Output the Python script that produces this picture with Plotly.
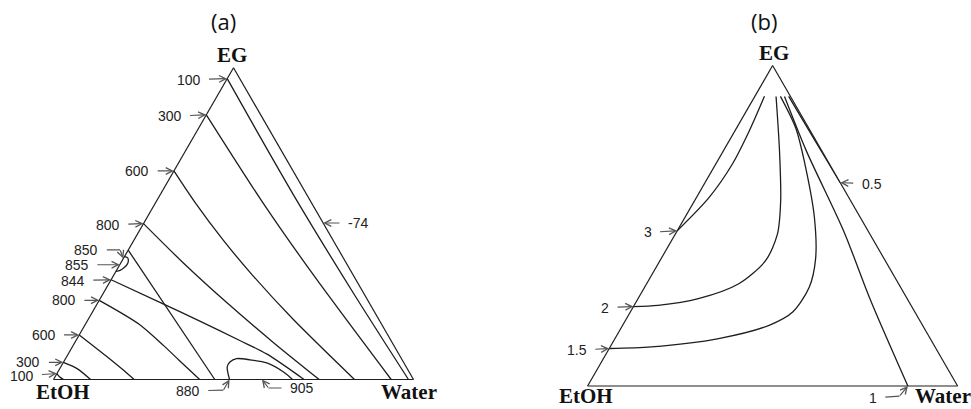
import plotly.graph_objects as go

W_FIG, H_FIG = 971, 409

# ------------------------------------------------------------------
# DATA  - compositions in percent: (EG, EtOH, Water)
# ------------------------------------------------------------------
# panel (a)
A_UP_100 = [(96.5, 3.5, 0.0), (77.5, 3.7, 18.8), (56.9, 3.7, 39.4), (26.7, 2.8, 70.5), (0.0, 1.4, 98.6)]
A_UP_300 = [(84.9, 15.1, 0.0), (56.9, 13.5, 29.6), (34.1, 11.1, 54.8), (0.0, 6.2, 93.8)]
A_UP_600 = [(66.9, 33.1, 0.0), (56.9, 32.3, 10.8), (44.7, 30.5, 24.8), (33.5, 28.0, 38.5),
            (19.4, 23.8, 56.8), (0.0, 16.4, 83.6)]
A_UP_800 = [(50.0, 50.0, 0.0), (37.3, 45.2, 17.5), (24.6, 39.5, 35.9), (11.9, 33.0, 55.1), (0.0, 26.2, 73.8)]
A_844 = [(32.0, 68.0, 0.0), (24.1, 57.2, 18.7), (18.8, 50.1, 31.1), (12.5, 42.0, 45.5),
         (8.2, 36.7, 55.1), (0.0, 30.4, 69.6)]
A_850 = [(41.5, 58.5, 0.0), (0.0, 55.2, 44.8)]
A_855 = [(39.4, 60.6, 0.0), (39.1, 59.9, 1.0), (38.2, 60.1, 1.7), (37.0, 61.0, 2.0),
         (35.9, 62.4, 1.7), (35.0, 64.0, 1.0), (34.7, 65.3, 0.0)]
A_LOW_800 = [(25.4, 74.6, 0.0), (17.8, 67.4, 14.8), (10.7, 63.9, 25.4), (6.1, 62.0, 31.9), (0.0, 59.4, 40.6)]
A_LOW_600 = [(14.3, 85.7, 0.0), (7.7, 81.7, 10.6), (3.6, 79.4, 17.0), (0.0, 77.6, 22.4)]
A_LOW_300 = [(5.5, 94.5, 0.0), (3.5, 91.7, 4.8), (0.0, 89.7, 10.3)]
A_LOW_100 = [(1.9, 98.1, 0.0), (0.9, 97.9, 1.2), (0.0, 97.2, 2.8)]
A_LOOP_880 = [(0.0, 51.1, 48.9), (4.0, 49.75, 46.25), (5.6, 48.2, 46.2), (6.7, 45.8, 47.5),
              (6.3, 42.2, 51.5), (5.3, 38.1, 56.6), (2.4, 34.9, 62.7), (0.0, 33.6, 66.4)]
A_TIP_850 = (38.8, 61.2, 0.0)
A_TIP_855 = (36.8, 63.2, 0.0)
A_TIP_905 = (0.0, 42.1, 57.9)
A_TIP_M74 = (50.2, 0.0, 49.8)

A_CURVES = [A_UP_100, A_UP_300, A_UP_600, A_UP_800, A_844, A_850, A_855,
            A_LOW_800, A_LOW_600, A_LOW_300, A_LOW_100, A_LOOP_880]
A_LABEL_TEXT = ["100", "300", "600", "800", "850", "855", "844", "800", "600", "300", "100",
                "880", "905", "-74"]
A_LABEL_TIP = [A_UP_100[0], A_UP_300[0], A_UP_600[0], A_UP_800[0], A_TIP_850, A_TIP_855,
               A_844[0], A_LOW_800[0], A_LOW_600[0], A_LOW_300[0], A_LOW_100[0],
               A_LOOP_880[0], A_TIP_905, A_TIP_M74]

# panel (b)
B_3 = [(48.45, 51.55, 0.0), (58.8, 37.8, 3.4), (69.2, 26.3, 4.5), (79.5, 16.6, 3.9), (90.4, 7.0, 2.6)]
B_2 = [(24.8, 75.2, 0.0), (25.16, 68.38, 6.46), (27.24, 56.46, 16.3), (31.9, 43.2, 24.9),
       (39.1, 32.35, 28.55), (47.4, 25.0, 27.6), (57.76, 18.94, 23.3), (73.3, 11.48, 15.22),
       (90.37, 3.88, 5.75)]
B_15 = [(11.7, 88.3, 0.0), (12.2, 76.65, 11.15), (14.8, 57.2, 28.0), (18.94, 41.46, 39.6),
        (23.07, 33.03, 43.9), (30.8, 24.7, 44.5), (39.75, 18.5, 41.75), (52.6, 12.4, 35.0),
        (68.1, 7.0, 24.9), (80.5, 3.5, 16.0), (90.37, 2.7, 6.93)]
B_1 = [(90.37, 1.6, 8.03), (73.3, 4.2, 22.5), (48.45, 6.6, 44.95), (26.7, 10.15, 63.15), (0.0, 13.44, 86.56)]
B_05 = [(90.4, 0.45, 9.15), (80.0, 0.3, 19.7), (70.0, 0.12, 29.88), (63.5, 0.0, 36.5)]
B_TIP_05 = (63.45, 0.0, 36.55)

B_CURVES = [B_3, B_2, B_15, B_1, B_05]
B_LABEL_TEXT = ["3", "2", "1.5", "1", "0.5"]
B_LABEL_TIP = [B_3[0], B_2[0], B_15[0], B_1[-1], B_TIP_05]

CORNERS = ["EG", "EtOH", "Water"]
PANEL_TITLES = ["(a)", "(b)"]

# ------------------------------------------------------------------
# LAYOUT / STYLE
# ------------------------------------------------------------------
GEOM_A = (53.5, 379.5, 360.0)   # left corner x, base y, side length (px)
GEOM_B = (587.6, 386.0, 370.0)

A_LABEL_OFF = [(-38.7, 1), (-36.7, 1.6), (-36.7, 0), (-35.7, 1), (-33.7, 0), (-42.9, 0),
               (-38.3, 1), (-35.3, 0), (-35.7, 0), (-35, 0), (-35.4, 2.2),
               (-35.6, 0.7), (33.4, 0), (34.8, 0)]
A_LABEL_ELBOW = [None, None, None, None, (-3.3, -8.7), None, None, None, None, None, None,
                 (-6.2, 10.7), (6.6, 8.5), None]
B_LABEL_OFF = [(-29.7, 1.7), (-28.4, 1), (-32.4, 1.7), (-26.6, 1.6), (31.5, 1)]
B_LABEL_ELBOW = [None, None, None, (-8.4, 10.2), None]

A_CORNER_OFF = [(-2, -13), (9, 12), (-5, 12)]
B_CORNER_OFF = [(1, -13), (-1.5, 10), (-15, 10)]
TITLE_POS = [(223.8, 20.5), (764.3, 20.5)]

LINE_COLOR = "#1e1e1e"
ARROW_COLOR = "#555555"
LABEL_FONT = dict(family="Liberation Sans, Arial, sans-serif", size=14, color="#222222")
CORNER_FONT = dict(family="Liberation Serif, Times New Roman, serif", size=21, color="#111111", weight="bold")
TITLE_FONT = dict(family="Open Sans, sans-serif", size=22, color="#111111")


def paper_xy(comp, geom):
    a, b, c = comp
    s = a + b + c
    a, c = a / s, c / s
    x0, y_base, side = geom
    h = side * 3 ** 0.5 / 2
    px = x0 + side * (c + a / 2)
    py = y_base - h * a
    return px / W_FIG, 1 - py / H_FIG


def shift(xy, dx, dy):
    return xy[0] + dx / W_FIG, xy[1] - dy / H_FIG


def domain(geom):
    x0, y_base, side = geom
    h = side * 3 ** 0.5 / 2
    return dict(x=[x0 / W_FIG, (x0 + side) / W_FIG],
                y=[1 - y_base / H_FIG, 1 - (y_base - h) / H_FIG])


fig = go.Figure()


def add_curves(curves, subplot):
    for cv in curves:
        fig.add_trace(go.Scatterternary(
            a=[p[0] for p in cv], b=[p[1] for p in cv], c=[p[2] for p in cv],
            mode="lines", subplot=subplot, hoverinfo="skip", showlegend=False,
            line=dict(color=LINE_COLOR, width=1.3, shape="spline", smoothing=0.8)))


add_curves(A_CURVES, "ternary")
add_curves(B_CURVES, "ternary2")

anns = []
common = dict(xref="paper", yref="paper", showarrow=True, arrowcolor=ARROW_COLOR,
              arrowwidth=1.2, font=LABEL_FONT)


def add_labels(texts, tips, offs, elbows, geom):
    for t, tip, off, elb in zip(texts, tips, offs, elbows):
        x, y = paper_xy(tip, geom)
        if elb is None:
            anns.append(dict(x=x, y=y, ax=off[0], ay=off[1], text=t, arrowhead=5,
                             arrowsize=1.1, startstandoff=7, **common))
        else:
            ex, ey = shift((x, y), elb[0], elb[1])
            anns.append(dict(x=ex, y=ey, ax=off[0], ay=off[1], text=t, arrowhead=0,
                             startstandoff=7, **common))
            anns.append(dict(x=x, y=y, ax=elb[0], ay=elb[1], text="", arrowhead=5,
                             arrowsize=1.1, borderpad=0, **common))


add_labels(A_LABEL_TEXT, A_LABEL_TIP, A_LABEL_OFF, A_LABEL_ELBOW, GEOM_A)
add_labels(B_LABEL_TEXT, B_LABEL_TIP, B_LABEL_OFF, B_LABEL_ELBOW, GEOM_B)

for geom, offs in ((GEOM_A, A_CORNER_OFF), (GEOM_B, B_CORNER_OFF)):
    corner_pts = [(100, 0, 0), (0, 100, 0), (0, 0, 100)]
    for name, cp, off in zip(CORNERS, corner_pts, offs):
        x, y = shift(paper_xy(cp, geom), off[0], off[1])
        anns.append(dict(x=x, y=y, xref="paper", yref="paper", text=name, showarrow=False,
                         xanchor="center", yanchor="middle", font=CORNER_FONT))

for title, (px, py) in zip(PANEL_TITLES, TITLE_POS):
    anns.append(dict(x=px / W_FIG, y=1 - py / H_FIG, xref="paper", yref="paper", text=title,
                     showarrow=False, xanchor="center", yanchor="middle", font=TITLE_FONT))

axis = dict(showline=True, linecolor=LINE_COLOR, linewidth=1.2, showgrid=False, ticks="",
            showticklabels=False, title=dict(text=""), min=0)

fig.update_layout(
    width=W_FIG, height=H_FIG, autosize=False,
    margin=dict(l=0, r=0, t=0, b=0),
    paper_bgcolor="white", plot_bgcolor="white", showlegend=False,
    ternary=dict(sum=100, domain=domain(GEOM_A), bgcolor="white", aaxis=axis, baxis=axis, caxis=axis),
    ternary2=dict(sum=100, domain=domain(GEOM_B), bgcolor="white", aaxis=axis, baxis=axis, caxis=axis),
    annotations=anns,
)

fig.write_html(
    "out.html",
    config={"displayModeBar": False},
    post_script="document.body.style.margin='0';document.body.style.padding='0';"
                "document.documentElement.style.overflow='hidden';",
)
